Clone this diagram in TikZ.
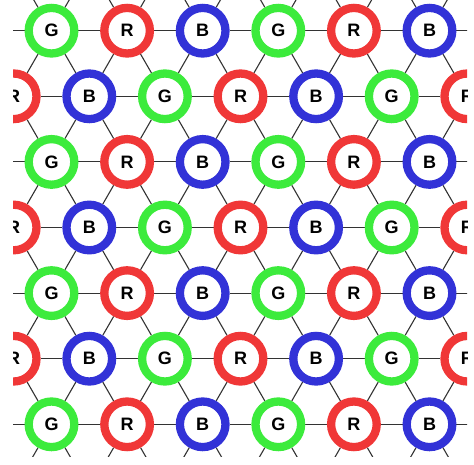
\documentclass[tikz,border=0pt]{standalone}
\usepackage{fontspec}
\newfontfamily\ringfont{Liberation Sans}
\usetikzlibrary{backgrounds}
\definecolor{ringG}{RGB}{60,235,60}
\definecolor{ringR}{RGB}{240,55,55}
\definecolor{ringB}{RGB}{50,50,215}

\begin{document}
\begin{tikzpicture}[x=1pt, y=-1pt,
    ring/.style={circle, draw=#1, line width=8.3pt, fill=white,
                 minimum size=45.6pt, inner sep=0pt,
                 font=\ringfont\bfseries\fontsize{18}{18}\selectfont},
    link/.style={draw=black!80, line width=1.1pt}
]
\useasboundingbox (0,0) rectangle (474,464);

% lattice sites: row \j, half-step column \m
\begin{scope}
\clip (13,0) rectangle (467,456);
\foreach \j in {-1,...,7} {
  \foreach \m in {-2,...,14} {
    \pgfmathtruncatemacro\site{mod(\m+\j+10,2)}
    \ifnum\site=1
      \pgfmathtruncatemacro\c{mod(int((\m+3*\j+5)/2),3)}
      \ifcase\c \def\col{G}\or \def\col{R}\or \def\col{B}\fi
      \pgfmathtruncatemacro\vis{(\j>=0)*(\j<=6)*(\m>=0)*(\m<=12)}
      \ifnum\vis=1
        \node[ring=ring\col] (p_\j_\m) at ({13.7+37.8*\m},{30.7+65.6*\j}) {\col};
      \else
        \coordinate (p_\j_\m) at ({13.7+37.8*\m},{30.7+65.6*\j});
      \fi
    \fi
  }
}
\end{scope}

% links between neighbouring sites
\begin{scope}[on background layer]
\fill[white] (0,0) rectangle (474,464);
\clip (13,0) rectangle (467,456);
\foreach \j in {-1,...,7} {
  \foreach \m in {-2,...,14} {
    \pgfmathtruncatemacro\site{mod(\m+\j+10,2)}
    \ifnum\site=1
      \pgfmathtruncatemacro\mr{\m+2}
      \pgfmathtruncatemacro\ml{\m-1}
      \pgfmathtruncatemacro\mn{\m+1}
      \pgfmathtruncatemacro\jn{\j+1}
      \ifnum\mr<15 \draw[link] (p_\j_\m) -- (p_\j_\mr); \fi
      \ifnum\j<7
        \ifnum\ml>-3 \draw[link] (p_\j_\m) -- (p_\jn_\ml); \fi
        \ifnum\mn<15 \draw[link] (p_\j_\m) -- (p_\jn_\mn); \fi
      \fi
    \fi
  }
}
\end{scope}
\end{tikzpicture}
\end{document}
